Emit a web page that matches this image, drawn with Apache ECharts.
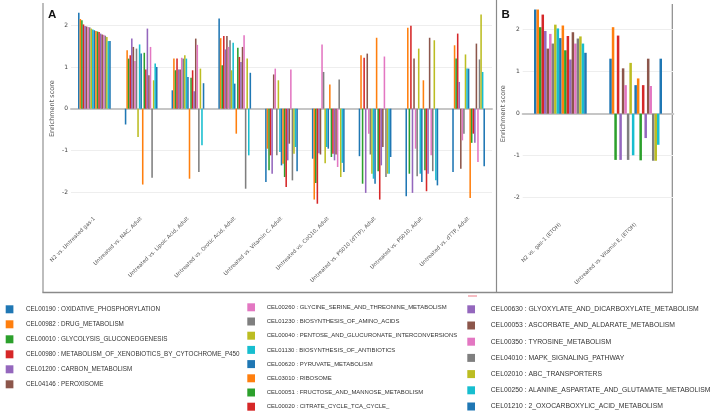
<!DOCTYPE html>
<html><head><meta charset="utf-8">
<script src="https://cdn.jsdelivr.net/npm/echarts@6/dist/echarts.min.js"></script>
<style>html,body{margin:0;padding:0;background:#fff}#c{width:718px;height:417px}</style>
</head><body><div id="c"></div>
<script>
const categoriesA = [
  'N2 vs. Untreated gas-1',
  'Untreated vs. NAC, Adult',
  'Untreated vs. Lipoic Acid, Adult',
  'Untreated vs. Orotic Acid, Adult',
  'Untreated vs. Vitamin C, Adult',
  'Untreated vs. CoQ10, Adult',
  'Untreated vs. PS010 (dTTP), Adult',
  'Untreated vs. PS010, Adult',
  'Untreated vs. dTTP, Adult'
];
const categoriesB = ['N2 vs. gas-1 (ETOH)', 'Untreated vs. Vitamin E, (ETOH)'];
const pathways = [
  'CEL00190 : OXIDATIVE_PHOSPHORYLATION',
  'CEL00982 : DRUG_METABOLISM',
  'CEL00010 : GLYCOLYSIS_GLUCONEOGENESIS',
  'CEL00980 : METABOLISM_OF_XENOBIOTICS_BY_CYTOCHROME_P450',
  'CEL01200 : CARBON_METABOLISM',
  'CEL04146 : PEROXISOME',
  'CEL00260 : GLYCINE_SERINE_AND_THREONINE_METABOLISM',
  'CEL01230 : BIOSYNTHESIS_OF_AMINO_ACIDS',
  'CEL00040 : PENTOSE_AND_GLUCURONATE_INTERCONVERSIONS',
  'CEL01130 : BIOSYNTHESIS_OF_ANTIBIOTICS',
  'CEL00620 : PYRUVATE_METABOLISM',
  'CEL03010 : RIBOSOME',
  'CEL00051 : FRUCTOSE_AND_MANNOSE_METABOLISM',
  'CEL00020 : CITRATE_CYCLE_TCA_CYCLE_',
  'CEL00630 : GLYOXYLATE_AND_DICARBOXYLATE_METABOLISM',
  'CEL00053 : ASCORBATE_AND_ALDARATE_METABOLISM',
  'CEL00350 : TYROSINE_METABOLISM',
  'CEL04010 : MAPK_SIGNALING_PATHWAY',
  'CEL02010 : ABC_TRANSPORTERS',
  'CEL00250 : ALANINE_ASPARTATE_AND_GLUTAMATE_METABOLISM',
  'CEL01210 : 2_OXOCARBOXYLIC_ACID_METABOLISM'
];
const palette = ['#1f77b4','#ff7f0e','#2ca02c','#d62728','#9467bd','#8c564b','#e377c2','#7f7f7f','#bcbd22','#17becf'];
const yTicks = [-2, -1, 0, 1, 2];

// enrichment scores, one value per pathway (same order as pathways)
const scoresN2Gas1     = [2.30, 2.15, 2.12, 2.02, 1.98, 1.97, 1.96, 1.95, 1.92, 1.90, 1.88, 1.86, 1.85, 1.84, 1.80, 1.78, 1.77, 1.75, 1.72, 1.62, 1.62];
const scoresNAC        = [-0.38, 1.40, 1.20, 1.28, 1.68, 1.48, 1.14, 1.44, -0.68, 1.54, 1.32, -1.82, 1.34, 0.94, 1.92, 0.80, 1.48, -1.66, 0.68, 1.08, 1.00];
const scoresLipoic     = [0.44, 1.20, 0.92, 1.20, 0.94, 0.94, 1.22, 1.20, 1.28, 1.20, 0.76, -1.68, 0.74, 0.92, 0.42, 1.68, 1.53, -1.52, 0.96, -0.88, 0.61];
const scoresOrotic     = [2.16, 1.69, 1.04, 1.74, 1.42, 1.74, 1.48, 1.64, 0.92, 1.58, 0.60, -0.60, 1.46, 1.24, 1.12, 1.48, 1.76, -1.92, 1.20, -1.12, 0.86];
const scoresVitC       = [-1.76, -0.96, -1.48, -1.12, -1.56, 0.82, 0.96, -1.12, 0.68, -1.04, -1.36, -1.32, -1.64, -1.88, -1.24, -0.84, 0.94, -1.72, -1.08, -0.92, -1.50];
const scoresCoQ10      = [-1.20, -2.18, -1.78, -2.28, -1.07, -1.10, 1.54, 0.88, -1.31, -0.92, -0.96, 0.58, -1.16, -1.08, -1.24, -1.10, -1.40, 0.70, -1.64, -1.30, -1.52];
const scoresPS010dTTP  = [-1.14, 1.28, -1.80, 1.22, -2.02, 1.32, -0.60, -1.10, -1.56, -1.68, -1.80, 1.70, -1.50, -2.18, -1.36, -0.92, 1.25, -1.64, -1.56, -1.56, -1.16];
const scoresPS010      = [-2.10, 1.94, -1.56, 1.99, -2.02, 1.20, -0.96, -1.62, 1.44, -1.56, -1.76, 0.68, -1.48, -1.98, -1.56, 1.70, -1.12, -1.50, 1.64, -1.72, -1.84];
const scoresDTTP       = [-1.52, 1.52, 1.20, 1.80, 0.64, -1.44, -0.76, -0.60, 1.30, 0.96, 0.96, -2.14, -0.82, -0.60, -0.82, 1.56, -1.28, 1.18, 2.26, 0.88, -1.38];
const scoresN2Gas1Etoh = [2.48, 2.48, 2.06, 2.36, 1.97, 1.55, 1.90, 1.67, 2.12, 2.03, 1.80, 2.10, 1.51, 1.85, 1.29, 1.94, 1.67, 1.79, 1.84, 1.67, 1.45];
const scoresVitEEtoh   = [1.31, 2.06, -1.10, 1.86, -1.10, 1.08, 0.68, -1.10, 1.21, -0.99, 0.68, 0.84, -1.11, 0.68, -0.58, 1.31, 0.66, -1.12, -1.12, -0.74, 1.31];

const groupsA = [scoresN2Gas1, scoresNAC, scoresLipoic, scoresOrotic, scoresVitC, scoresCoQ10, scoresPS010dTTP, scoresPS010, scoresDTTP];
const groupsB = [scoresN2Gas1Etoh, scoresVitEEtoh];

const FONT_AX = 'DejaVu Sans';
const FONT_LG = 'Liberation Sans';

function xLabelAxis(grid, cats) {
  return {
    gridIndex: grid, type: 'category', data: cats,
    axisLine: { show: false, onZero: false }, axisTick: { show: false },
    splitLine: { show: false },
    axisLabel: { interval: 0, rotate: 45, fontSize: 5.3, color: '#555', margin: 5, fontFamily: FONT_AX }
  };
}
function xZeroAxis(grid, cats) {
  return {
    gridIndex: grid, type: 'category', data: cats,
    axisLine: { show: true, onZero: true, lineStyle: { color: '#c6c6c6', width: 2 } },
    axisTick: { show: false }, axisLabel: { show: false }, splitLine: { show: false }
  };
}
function yAxisFor(grid, gap) {
  return {
    gridIndex: grid, type: 'value', min: -2.5, max: 2.5,
    axisLine: { show: false },
    axisTick: { show: false, customValues: yTicks },
    axisLabel: { customValues: yTicks, fontSize: 6, color: '#444', margin: 3, fontFamily: FONT_AX },
    splitLine: { show: true, lineStyle: { color: '#eeeeee', width: 1 } },
    name: 'Enrichment score', nameLocation: 'middle', nameGap: gap, nameRotate: 90,
    nameMoveOverlap: false,
    nameTextStyle: { fontSize: 6.5, color: '#555', fontFamily: FONT_AX }
  };
}

const series = [];
pathways.forEach((name, i) => {
  const color = palette[i % palette.length];
  series.push({
    name, type: 'bar', xAxisIndex: 0, yAxisIndex: 0,
    data: groupsA.map(g => g[i]),
    itemStyle: { color }, barGap: '0%', barCategoryGap: '30%'
  });
  series.push({
    name, type: 'bar', xAxisIndex: 2, yAxisIndex: 1,
    data: groupsB.map(g => g[i]),
    itemStyle: { color }, barGap: '0%', barCategoryGap: '30%'
  });
});

function legendCol(left, top, gap, pad, size, names) {
  return {
    orient: 'vertical', left, top, padding: 0, itemGap: gap,
    itemWidth: 7.7, itemHeight: 8, icon: 'rect', data: names,
    textStyle: { fontSize: size, color: '#333', fontFamily: FONT_LG, lineHeight: 8, padding: [0, 0, 0, pad] }
  };
}

const chart = echarts.init(document.getElementById('c'), null, { renderer: 'canvas' });
chart.setOption({
  animation: false,
  backgroundColor: '#fff',
  grid: [
    { left: 71, top: 4.4, width: 421, height: 208.5, outerBoundsMode: 'none', containLabel: false },
    { left: 522.7, top: 8.7, width: 150.6, height: 210, outerBoundsMode: 'none', containLabel: false }
  ],
  xAxis: [xLabelAxis(0, categoriesA), xZeroAxis(0, categoriesA), xLabelAxis(1, categoriesB), xZeroAxis(1, categoriesB)],
  yAxis: [yAxisFor(0, 15.5), yAxisFor(1, 16)],
  legend: [
    legendCol(5.7, 305.3, 7, 7.6, 6.3, pathways.slice(0, 6)),
    legendCol(247.3, 303.3, 6.2, 6.7, 5.95, pathways.slice(6, 14)),
    legendCol(467.3, 305.3, 8.2, 10.7, 6.8, pathways.slice(14))
  ],
  series,
  graphic: [
    { type: 'line', shape: { x1: 43, y1: 3, x2: 43, y2: 292.5 }, style: { stroke: '#9a9a9a', lineWidth: 1.3 }, silent: true },
    { type: 'line', shape: { x1: 496.5, y1: 0, x2: 496.5, y2: 292.5 }, style: { stroke: '#8a8a8a', lineWidth: 1.2 }, silent: true },
    { type: 'line', shape: { x1: 672.3, y1: 4, x2: 672.3, y2: 292.5 }, style: { stroke: '#8a8a8a', lineWidth: 1.2 }, silent: true },
    { type: 'line', shape: { x1: 42.4, y1: 292.5, x2: 672.9, y2: 292.5 }, style: { stroke: '#8a8a8a', lineWidth: 1.3 }, silent: true },
    { type: 'text', x: 48, y: 9, style: { text: 'A', font: 'bold 11.5px "Liberation Sans"', fill: '#111' }, silent: true },
    { type: 'text', x: 501.5, y: 9.3, style: { text: 'B', font: 'bold 11.5px "Liberation Sans"', fill: '#111' }, silent: true },
    { type: 'rect', shape: { x: 468, y: 295.3, width: 9, height: 1.4 }, style: { fill: '#f2a0a8' }, silent: true }
  ]
});
</script>
</body></html>
